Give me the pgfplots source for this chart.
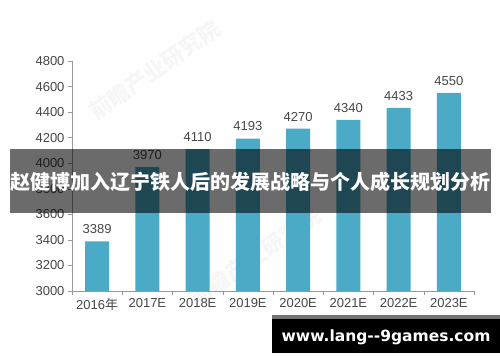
\documentclass[border=0pt]{standalone}
\usepackage{pgfplots}
\pgfplotsset{compat=1.18}
\usepackage{fontspec}
\setmainfont{Liberation Sans}
\newfontfamily\cjk{Noto Sans CJK SC}
\newfontfamily\deja{DejaVu Sans}
\definecolor{barc}{HTML}{4BAAC6}
\definecolor{txt}{HTML}{474747}
\pgfplotsset{/pgf/number format/1000 sep={}}
\begin{document}
\begin{tikzpicture}[x=1pt,y=1pt]
\useasboundingbox (0,0) rectangle (500,362);
\fill[white] (0,0) rectangle (500,362);
% faint watermarks
\node[rotate=35, text=gray, opacity=0.07, font=\cjk\bfseries\fontsize{22}{22}\selectfont] at (155,292) {前瞻产业研究院};
\node[rotate=35, text=gray, opacity=0.07, font=\cjk\bfseries\fontsize{22}{22}\selectfont] at (255,105) {前瞻产业研究院};
\begin{axis}[
  at={(72pt,71pt)}, anchor=south west,
  scale only axis, width=402pt, height=230pt,
  xmin=-0.5, xmax=7.5, ymin=3000, ymax=4800,
  ytick={3000,3200,...,4800},
  xtick={0,...,7},
  xticklabels={2016{\cjk 年},2017E,2018E,2019E,2020E,2021E,2022E,2023E},
  minor xtick={-0.5,0.5,...,7.5},
  major x tick style={draw=none},
  axis x line*=bottom, axis y line*=left,
  tick align=outside,
  major tick length=4pt, minor tick length=4pt,
  axis line style={black!40},
  tick style={black!40},
  every tick/.style={black!40},
  ticklabel style={font=\fontsize{13}{13}\selectfont, text=txt},
  /pgf/number format/assume math mode=true,
  ybar, bar width=24pt,
  nodes near coords,
  nodes near coords style={font=\fontsize{13}{13}\selectfont, text=txt, yshift=4pt},
  clip=false,
]
\addplot[fill=barc, draw=none] coordinates {(0,3389) (1,3970) (2,4110) (3,4193) (4,4270) (5,4340) (6,4433) (7,4550)};
\end{axis}
% banner
\fill[black, opacity=0.58] (10,149) rectangle (491,213);
\node[text=white, font=\cjk\bfseries\fontsize{20}{20}\selectfont] at (250.5,180) {赵健博加入辽宁铁人后的发展战略与个人成长规划分析};
% url box
\fill[black] (272,9) rectangle (500,47);
\fill[black!55] (272,43) rectangle (500,47);
\node[text=white, font=\deja\bfseries\fontsize{15.5}{15.5}\selectfont] at (386,25) {www.lang-{}-9games.com};
\end{tikzpicture}
\end{document}
